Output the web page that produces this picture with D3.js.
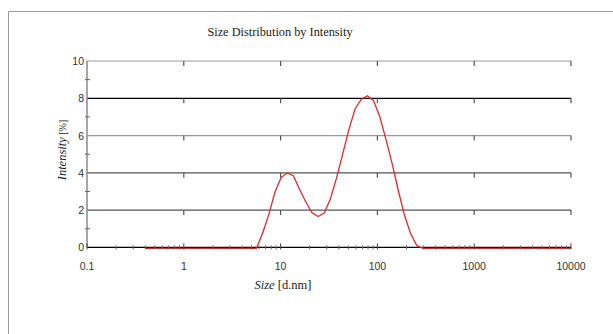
<!DOCTYPE html>
<html>
<head>
<meta charset="utf-8">
<script src="https://cdn.jsdelivr.net/npm/d3@7"></script>
<style>
  html, body { margin: 0; padding: 0; background: #fff; }
  svg { display: block; }
</style>
</head>
<body>
<svg id="chart" width="613" height="334"></svg>
<script>
// bin sizes (d.nm) as exported by the instrument
const sizes = [0.4, 0.4632, 0.5365, 0.6213, 0.7195, 0.8332, 0.9649, 1.117, 1.294, 1.499,
    1.736, 2.010, 2.328, 2.696, 3.122, 3.615, 4.187, 4.849, 5.615, 6.503,
    7.531, 8.721, 10.10, 11.70, 13.54, 15.69, 18.17, 21.04, 24.36, 28.21,
    32.67, 37.84, 43.82, 50.75, 58.77, 68.06, 78.82, 91.28, 105.7, 122.4,
    141.8, 164.2, 190.1, 220.2, 255.0, 295.3, 342.0, 396.1, 458.7, 531.2,
    615.1, 712.4, 825.0, 955.4, 1106, 1281, 1484, 1718, 1990, 2305,
    2669, 3091, 3580, 4145, 4801, 5560, 6439, 7456, 8635, 10000];

// intensity (%) per bin
const intensity = [0, 0, 0, 0, 0, 0, 0, 0, 0, 0,
    0, 0, 0, 0, 0, 0, 0, 0, 0, 0.8,
    1.8, 3.0, 3.8, 4.05, 3.9, 3.17, 2.5, 1.92, 1.71, 1.9,
    2.65, 3.78, 5.07, 6.37, 7.48, 7.99, 8.19, 7.93, 7.08, 5.86,
    4.56, 3.12, 1.79, 0.8, 0.15, 0, 0, 0, 0, 0,
    0, 0, 0, 0, 0, 0, 0, 0, 0, 0,
    0, 0, 0, 0, 0, 0, 0, 0, 0, 0];

const xTicks = [0.1, 1, 10, 100, 1000, 10000];
const xTickLabels = ["0.1", "1", "10", "100", "1000", "10000"];
const yTicks = [0, 2, 4, 6, 8, 10];
const yMinorTicks = [1, 3, 5, 7, 9];

const title = "Size Distribution by Intensity";

// grid line shades, bottom to top (looks like the export's antialiasing)
const gridColours = ["#000", "#555", "#555", "#999", "#000", "#999"];

const svg = d3.select("#chart");

// outer frame (left + top only)
svg.append("path")
    .attr("d", "M8.5,334 V11.5 H613")
    .attr("fill", "none")
    .attr("stroke", "#999")
    .attr("stroke-width", 1);

const x = d3.scaleLog().domain([0.1, 10000]).range([87, 571]);
const y = d3.scaleLinear().domain([0, 10]).range([247.4, 61]);

svg.append("text")
    .attr("x", 280)
    .attr("y", 36)
    .attr("text-anchor", "middle")
    .attr("font-family", "Liberation Serif, serif")
    .attr("font-size", 12.3)
    .attr("fill", "#222")
    .text(title);

// horizontal grid lines
svg.append("g")
    .selectAll("line")
    .data(yTicks)
    .join("line")
    .attr("x1", x(0.1))
    .attr("x2", x(10000))
    .attr("y1", d => y(d))
    .attr("y2", d => y(d))
    .attr("stroke", (d, i) => gridColours[i])
    .attr("stroke-width", 1.2);

// distribution curve (sits a pixel under the zero line, as exported)
const curve = d3.line()
    .x((d, i) => x(sizes[i]))
    .y(d => y(d) + 1);

svg.append("path")
    .datum(intensity)
    .attr("d", curve)
    .attr("fill", "none")
    .attr("stroke", "#e8262a")
    .attr("stroke-width", 1.3);

// short ticks hanging below each grid line at every decade
const hang = [];
yTicks.filter(v => v > 0).forEach(v => xTicks.slice(1).forEach(s => hang.push([s, v])));
svg.append("g")
    .selectAll("line")
    .data(hang)
    .join("line")
    .attr("x1", d => x(d[0]))
    .attr("x2", d => x(d[0]))
    .attr("y1", d => y(d[1]))
    .attr("y2", d => y(d[1]) + 5)
    .attr("stroke", "#555")
    .attr("stroke-width", 1.2);

// y axis line and minor ticks
svg.append("line")
    .attr("x1", x(0.1)).attr("x2", x(0.1))
    .attr("y1", y(10)).attr("y2", y(0))
    .attr("stroke", "#888")
    .attr("stroke-width", 1.5);

svg.append("g")
    .selectAll("line")
    .data(yMinorTicks)
    .join("line")
    .attr("x1", x(0.1) - 2)
    .attr("x2", x(0.1) + 3)
    .attr("y1", d => y(d))
    .attr("y2", d => y(d))
    .attr("stroke", "#666");

svg.append("g")
    .selectAll("text")
    .data(yTicks)
    .join("text")
    .attr("x", x(0.1) - 3)
    .attr("y", d => y(d) + 4)
    .attr("text-anchor", "end")
    .attr("font-family", "Liberation Sans, Arial, sans-serif")
    .attr("font-size", 10.5)
    .attr("fill", "#333")
    .text(d => d);

// x axis minor + major ticks on the baseline
const minor = x.ticks().filter(v => !xTicks.includes(v));
svg.append("g")
    .selectAll("line")
    .data(minor)
    .join("line")
    .attr("x1", d => x(d))
    .attr("x2", d => x(d))
    .attr("y1", y(0) - 2)
    .attr("y2", y(0) + 2)
    .attr("stroke", "#666");

svg.append("g")
    .selectAll("line")
    .data(xTicks)
    .join("line")
    .attr("x1", d => x(d))
    .attr("x2", d => x(d))
    .attr("y1", y(0) - 4)
    .attr("y2", y(0) + 2)
    .attr("stroke", "#444");

svg.append("g")
    .selectAll("text")
    .data(xTicks)
    .join("text")
    .attr("x", d => x(d))
    .attr("y", 269.5)
    .attr("text-anchor", "middle")
    .attr("font-family", "Liberation Sans, Arial, sans-serif")
    .attr("font-size", 10.5)
    .attr("fill", "#333")
    .text((d, i) => xTickLabels[i]);

// axis titles
const xt = svg.append("text")
    .attr("x", 283)
    .attr("y", 289)
    .attr("text-anchor", "middle")
    .attr("font-family", "Liberation Serif, serif")
    .attr("font-size", 12.5)
    .attr("fill", "#222");
xt.append("tspan").attr("font-style", "italic").text("Size");
xt.append("tspan").text(" [d.nm]");

const yt = svg.append("text")
    .attr("transform", "translate(66,150) rotate(-90)")
    .attr("text-anchor", "middle")
    .attr("font-family", "Liberation Serif, serif")
    .attr("font-size", 12.5)
    .attr("fill", "#222");
yt.append("tspan").attr("font-style", "italic").text("Intensity");
yt.append("tspan").attr("font-size", 10).text(" [%]");
</script>
</body>
</html>
